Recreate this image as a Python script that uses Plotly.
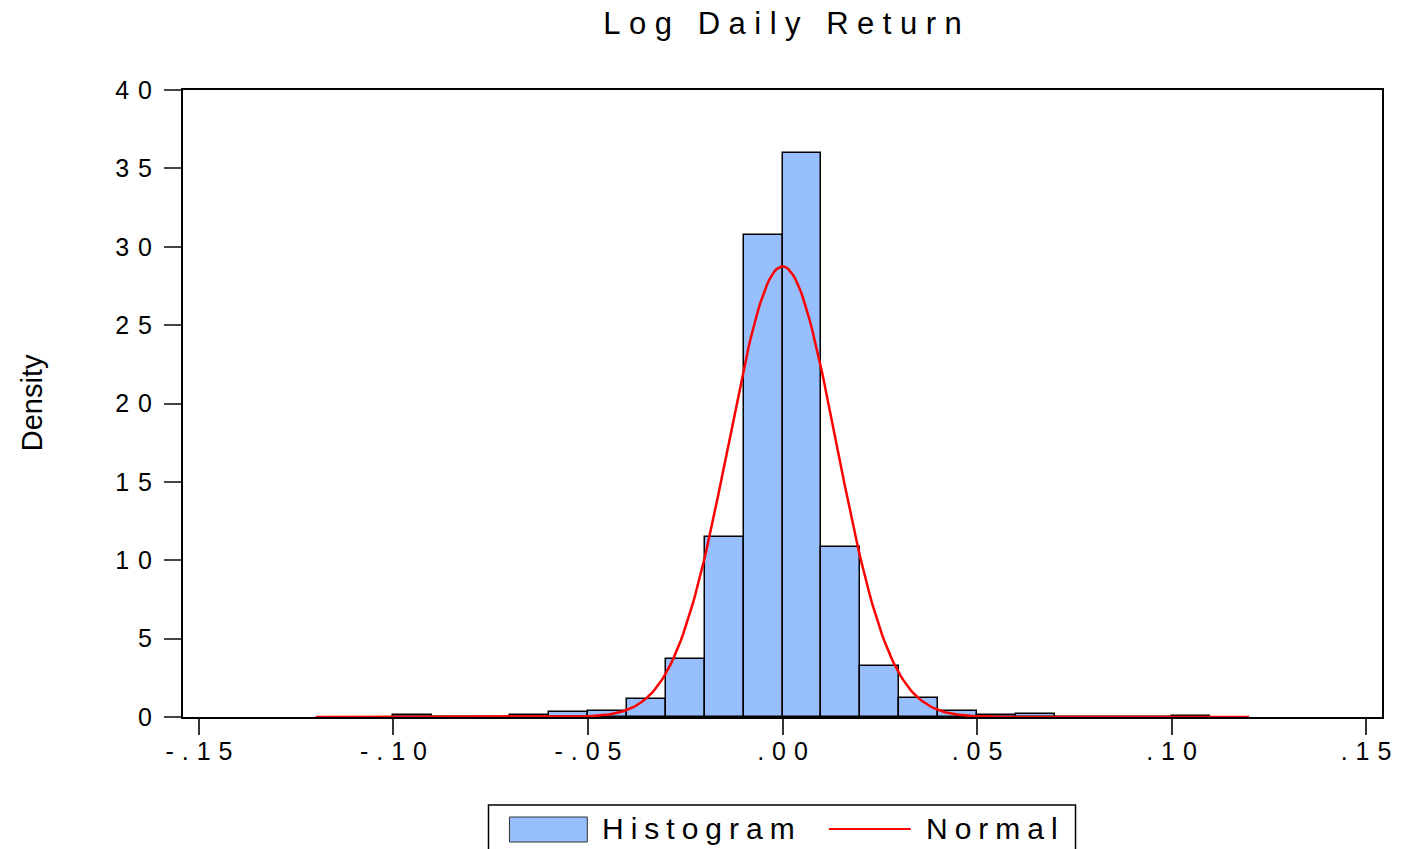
import numpy as np
import plotly.graph_objects as go

# Histogram bins (left edges, width 0.01) and density heights
bin_left = [-0.10, -0.09, -0.08, -0.07, -0.06, -0.05, -0.04, -0.03, -0.02, -0.01,
            0.00, 0.01, 0.02, 0.03, 0.04, 0.05, 0.06, 0.07, 0.08, 0.09, 0.10]
density = [0.15, 0.0, 0.0, 0.15, 0.30, 0.38, 1.12, 3.72, 11.50, 30.76,
           35.95, 10.83, 3.23, 1.23, 0.38, 0.15, 0.22, 0.0, 0.0, 0.0, 0.09]
bin_width = 0.01

# Fitted normal distribution parameters
MU = 0.0
SIGMA = 0.01388
curve_lo, curve_hi = -0.12, 0.12

x_tickvals = [-0.15, -0.10, -0.05, 0.00, 0.05, 0.10, 0.15]
x_ticktext = ["-.15", "-.10", "-.05", ".00", ".05", ".10", ".15"]
y_tickvals = [0, 5, 10, 15, 20, 25, 30, 35, 40]

FONT = "Liberation Sans, Arial, Helvetica, sans-serif"
W, H = 1403, 849
ML, MR, MT, MB = 183, 19, 90, 132


def spaced(text, px):
    """Widen a label by letter-spacing every character except the last."""
    if len(text) < 2:
        return text
    return f"<span style='letter-spacing:{px}px'>{text[:-1]}</span>{text[-1]}"


def px_x(p):
    return (p - ML) / (W - ML - MR)


def px_y(p):
    return (H - MB - p) / (H - MT - MB)


centers = [b + bin_width / 2 for b in bin_left]
xs = np.linspace(curve_lo, curve_hi, 400)
pdf = np.exp(-0.5 * ((xs - MU) / SIGMA) ** 2) / (SIGMA * np.sqrt(2 * np.pi))

fig = go.Figure()
fig.add_trace(go.Bar(
    x=centers, y=density, width=bin_width,
    marker=dict(color="#97BFFE", line=dict(color="black", width=1.5)),
    name="Histogram", showlegend=False,
))
fig.add_trace(go.Scatter(
    x=xs, y=pdf, mode="lines",
    line=dict(color="#FF0000", width=2.5),
    name="Normal", showlegend=False,
))

fig.update_layout(
    width=W, height=H,
    margin=dict(l=ML, r=MR, t=MT, b=MB),
    paper_bgcolor="white", plot_bgcolor="white",
    bargap=0,
    font=dict(family=FONT, color="black"),
    title=dict(
        text=spaced("Log Daily Return", 8.5),
        x=0.5, xref="paper", xanchor="center",
        y=1 - 23 / H, yref="container", yanchor="middle",
        font=dict(size=31, family=FONT, color="black"),
    ),
    xaxis=dict(
        range=[-0.1541, 0.1541],
        tickvals=x_tickvals,
        ticktext=[spaced(t, 8) for t in x_ticktext],
        ticks="outside", ticklen=16, tickwidth=1.5, tickcolor="#333",
        showline=True, linecolor="black", linewidth=2, mirror=True,
        showgrid=False, zeroline=False,
        tickfont=dict(size=25, family=FONT, color="black"),
        ticklabelstandoff=-5,
    ),
    yaxis=dict(
        range=[0, 40],
        tickvals=y_tickvals,
        ticktext=[spaced(str(v), 9) for v in y_tickvals],
        ticks="outside", ticklen=17, tickwidth=1.5, tickcolor="#444",
        showline=True, linecolor="black", linewidth=2, mirror=True,
        showgrid=False, zeroline=False,
        tickfont=dict(size=25, family=FONT, color="black"),
        ticklabelstandoff=7,
    ),
)

# Axis label
fig.add_annotation(
    text="Density", textangle=-90,
    x=px_x(32), y=px_y(403), xref="paper", yref="paper",
    xanchor="center", yanchor="middle", showarrow=False,
    font=dict(size=29, family=FONT, color="black"),
)

# Legend box below the plot
fig.add_shape(type="rect", xref="paper", yref="paper",
              x0=px_x(489), x1=px_x(1077), y0=px_y(805), y1=px_y(860),
              line=dict(color="black", width=1.5), fillcolor="white", layer="above")
fig.add_shape(type="rect", xref="paper", yref="paper",
              x0=px_x(510), x1=px_x(588), y0=px_y(817), y1=px_y(842),
              line=dict(color="#333", width=1), fillcolor="#97BFFE", layer="above")
fig.add_shape(type="line", xref="paper", yref="paper",
              x0=px_x(830), x1=px_x(912), y0=px_y(829), y1=px_y(829),
              line=dict(color="#FF0000", width=2), layer="above")
fig.add_annotation(text=spaced("Histogram", 7), x=px_x(601), y=px_y(828),
                   xref="paper", yref="paper", xanchor="left", yanchor="middle",
                   showarrow=False, font=dict(size=30, family=FONT, color="black"))
fig.add_annotation(text=spaced("Normal", 7), x=px_x(925), y=px_y(828),
                   xref="paper", yref="paper", xanchor="left", yanchor="middle",
                   showarrow=False, font=dict(size=30, family=FONT, color="black"))

fig.write_html("out.html")
